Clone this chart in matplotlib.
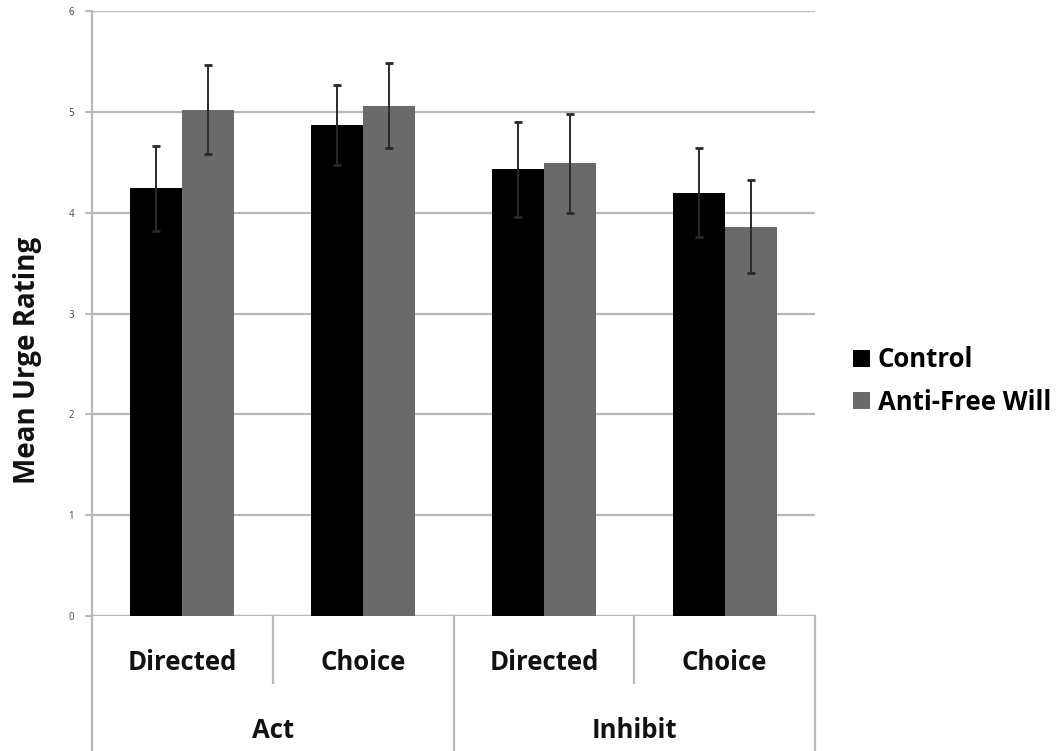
import matplotlib
matplotlib.use("Agg")
import matplotlib.pyplot as plt
import numpy as np

# Mean urge ratings by condition, with standard-error bars
conditions = ["Directed", "Choice", "Directed", "Choice"]
blocks = ["Act", "Inhibit"]
series_names = ["Control", "Anti-Free Will"]
control_means = [4.24, 4.87, 4.43, 4.20]
control_err = [0.42, 0.40, 0.47, 0.44]
antifw_means = [5.02, 5.06, 4.49, 3.86]
antifw_err = [0.44, 0.42, 0.49, 0.46]
yticks = [0, 1, 2, 3, 4, 5, 6]

FONT = "Open Sans"
GRID = "#b8b8b8"
ERR = "#2a2a2a"

fig = plt.figure(figsize=(10.57, 7.51), dpi=100)
ax = fig.add_axes([92 / 1057, 1 - 616 / 751, (815 - 92) / 1057, (616 - 11) / 751])

x = np.arange(len(conditions))
w = 0.287
ax.bar(x - w / 2, control_means, w, color="#000000", label=series_names[0], zorder=3)
ax.bar(x + w / 2, antifw_means, w, color="#6a6a6a", label=series_names[1], zorder=3)
ax.errorbar(x - w / 2, control_means, yerr=control_err, fmt="none", ecolor=ERR,
            elinewidth=1.4, capsize=2.8, capthick=2, zorder=4)
ax.errorbar(x + w / 2, antifw_means, yerr=antifw_err, fmt="none", ecolor=ERR,
            elinewidth=1.4, capsize=2.8, capthick=2, zorder=4)

ax.set_xlim(-0.5, len(conditions) - 0.5)
ax.set_ylim(0, 6)
ax.set_yticks(yticks)
ax.set_yticklabels([str(t) for t in yticks], fontsize=7, color="#444444", family=FONT)
ax.yaxis.grid(True, color=GRID, linewidth=1.6, zorder=0)
ax.set_axisbelow(True)
ax.tick_params(axis="y", length=5, width=1.4, color=GRID, pad=8)
ax.set_xticks([])
for s in ["top", "right", "bottom"]:
    ax.spines[s].set_visible(False)
ax.spines["left"].set_color(GRID)
ax.spines["left"].set_linewidth(1.6)
ax.axhline(0, color=GRID, linewidth=1.6, zorder=2)

# Two-level category axis drawn below the plot
tr = ax.get_xaxis_transform()
y_short = -(683 - 616) / 605
y_long = -(751 - 616) / 605
for b in [-0.5, 1.5, 3.5]:
    ax.plot([b, b], [0, y_long], transform=tr, color=GRID, lw=1.6, clip_on=False)
for b in [0.5, 2.5]:
    ax.plot([b, b], [0, y_short], transform=tr, color=GRID, lw=1.6, clip_on=False)
for xi, lab in zip(x, conditions):
    ax.text(xi, -(662 - 616) / 605, lab, transform=tr, ha="center", va="center",
            fontsize=18.5, fontweight="bold", family=FONT, color="#111111")
for i, lab in enumerate(blocks):
    ax.text(2 * i + 0.5, -(730 - 616) / 605, lab, transform=tr, ha="center", va="center",
            fontsize=18.5, fontweight="bold", family=FONT, color="#111111")

fig.text(28 / 1057, 1 - 360 / 751, "Mean Urge Rating", rotation=90, ha="center",
         va="center", fontsize=20, fontweight="bold", family=FONT, color="#111111")

leg = ax.legend(loc="center left", bbox_to_anchor=(843 / 1057, 1 - 381 / 751),
                bbox_transform=fig.transFigure, frameon=False,
                prop={"family": FONT, "weight": "bold", "size": 18.5},
                handlelength=0.65, handleheight=0.65, handletextpad=0.3,
                labelspacing=0.6, borderaxespad=0)

fig.savefig("out.png", dpi=100)
